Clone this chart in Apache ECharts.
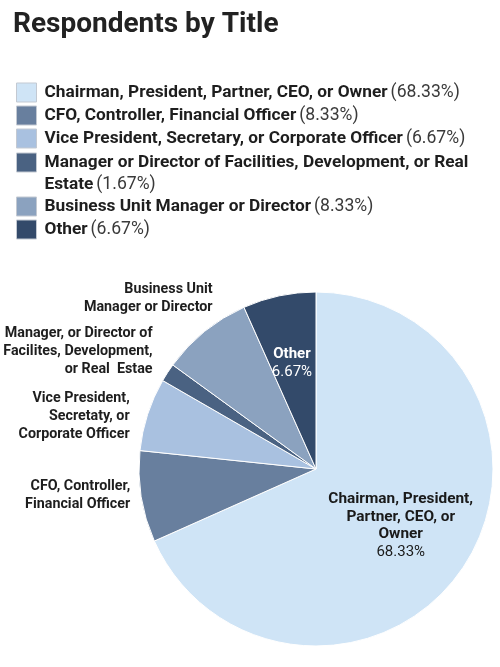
<!DOCTYPE html>
<html>
<head>
<meta charset="utf-8">
<script src="https://cdn.jsdelivr.net/npm/echarts@6/dist/echarts.min.js"></script>
<style>
html,body{margin:0;padding:0;background:#fff;}
#c{width:500px;height:667px;}
</style>
</head>
<body>
<div id="c"></div>
<script>
// ---- data ----
const categories = [
  'Chairman, President, Partner, CEO, or Owner',
  'CFO, Controller, Financial Officer',
  'Vice President, Secretary, or Corporate Officer',
  'Manager or Director of Facilities, Development, or Real Estate',
  'Business Unit Manager or Director',
  'Other'
];
const values = [68.33, 8.33, 6.67, 1.67, 8.33, 6.67];
const legendText = [
  'Chairman, President, Partner, CEO, or Owner',
  'CFO, Controller, Financial Officer',
  'Vice President, Secretary, or Corporate Officer',
  'Manager or Director of Facilities, Development, or Real\nEstate',
  'Business Unit Manager or Director',
  'Other'
];
const sliceLabels = [
  'Chairman, President,\nPartner, CEO, or\nOwner',
  'CFO, Controller,\nFinancial Officer',
  'Vice President,\nSecretaty, or\nCorporate Officer',
  'Manager, or Director of\nFacilites, Development,\nor Real  Estae',
  'Business Unit\nManager or Director',
  'Other'
];
const showPercentOnSlice = [true, false, false, false, false, true];
const insideLabel = [true, false, false, false, false, true];

// ---- style ----
const colors = ['#cfe4f6', '#687f9e', '#a9c1e0', '#4a6282', '#8ba2bf', '#334a6a'];
const sliceLabelColors = ['#1a1a1a', '#1e1e1e', '#1e1e1e', '#1e1e1e', '#1e1e1e', '#ffffff'];
const labelOffsets = [[8, 7], [-6, -1], [-13, 2], [-10, -21], [13, -33], [-5, -16]];
const legendTops = [82.5, 105.5, 128.5, 152.5, 196.5, 219.5];
const FONT = 'Roboto, "Noto Sans", sans-serif';
const LH = 22;

function fmtPct(v) { return v.toFixed(2) + '%'; }

const legends = categories.map(function (name, i) {
  const multi = legendText[i].indexOf('\n') >= 0;
  const parts = legendText[i].split('\n');
  return {
    data: [name],
    orient: 'vertical',
    left: 16,
    top: legendTops[i],
    padding: 0,
    itemWidth: 20,
    itemHeight: 19,
    icon: 'rect',
    selectedMode: false,
    itemStyle: { borderColor: '#c3c9d2', borderWidth: 1 },
    formatter: function () {
      return parts.map(function (p, k) {
        let s = '{n|' + p + '}';
        if (k === parts.length - 1) s += ' {p|(' + fmtPct(values[i]) + ')}';
        return s;
      }).join('\n');
    },
    textStyle: {
      fontFamily: FONT,
      padding: multi ? [LH, 0, 0, 3] : [0, 0, 0, 3],
      rich: {
        n: { fontFamily: FONT, fontSize: 17.3, fontWeight: 'bold', color: '#1e1e1e', lineHeight: LH },
        p: { fontFamily: FONT, fontSize: 17.6, fontWeight: 'normal', color: '#3a3a3a', lineHeight: LH }
      }
    }
  };
});

const seriesData = categories.map(function (name, i) {
  const inside = insideLabel[i];
  return {
    name: name,
    value: values[i],
    itemStyle: { color: colors[i] },
    label: {
      position: inside ? 'inside' : 'outside',
      align: inside ? 'center' : 'right',
      rich: {
        b: { fontFamily: FONT, fontSize: i === 0 ? 15.4 : (inside ? 15 : 14.3), fontWeight: 'bold', color: sliceLabelColors[i], lineHeight: i === 0 ? 17.7 : 18, align: inside ? 'center' : 'right' },
        p: { fontFamily: FONT, fontSize: 15, fontWeight: 'normal', color: sliceLabelColors[i], lineHeight: 18, align: 'center' }
      }
    }
  };
});

const chart = echarts.init(document.getElementById('c'), null, { renderer: 'canvas' });
chart.setOption({
  backgroundColor: '#ffffff',
  animation: false,
  title: {
    text: 'Respondents by Title',
    left: 13,
    top: 11,
    padding: 0,
    textStyle: { fontFamily: FONT, fontSize: 28, fontWeight: 'bold', color: '#222222' }
  },
  legend: legends,
  series: [{
    type: 'pie',
    center: [316, 469],
    radius: 177,
    startAngle: 90,
    clockwise: true,
    avoidLabelOverlap: false,
    itemStyle: { borderColor: '#ffffff', borderWidth: 1 },
    labelLine: { show: false, length: 0, length2: 0 },
    label: {
      show: true,
      fontFamily: FONT,
      formatter: function (p) {
        const i = p.dataIndex;
        const lines = sliceLabels[i].split('\n').map(function (t) { return '{b|' + t + '}'; });
        if (showPercentOnSlice[i]) lines.push('{p|' + fmtPct(values[i]) + '}');
        return lines.join('\n');
      }
    },
    labelLayout: function (params) {
      const o = labelOffsets[params.dataIndex];
      return { dx: o[0], dy: o[1] };
    },
    emphasis: { disabled: true },
    data: seriesData
  }]
});
</script>
</body>
</html>
